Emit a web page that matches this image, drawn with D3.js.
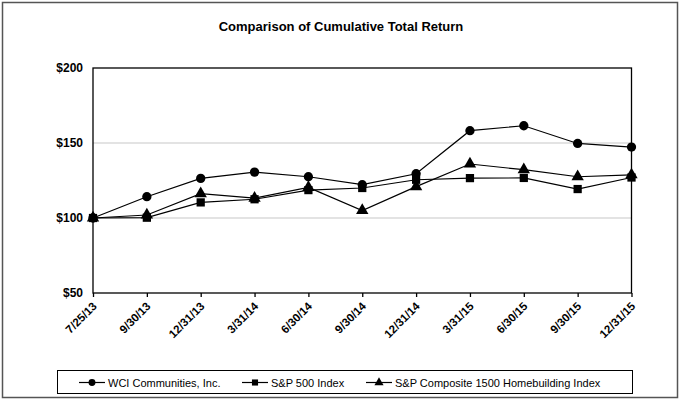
<!DOCTYPE html>
<html>
<head>
<meta charset="utf-8">
<script src="https://cdn.jsdelivr.net/npm/d3@7"></script>
<style>
  body { margin: 0; background: #fff; }
  svg { display: block; font-family: 'Liberation Sans', Arial, sans-serif; }
</style>
</head>
<body>
<div id="chart"></div>
<script>
// dates on the x axis
const dates = ['7/25/13', '9/30/13', '12/31/13', '3/31/14', '6/30/14', '9/30/14',
  '12/31/14', '3/31/15', '6/30/15', '9/30/15', '12/31/15'];

// cumulative total return
const wci = [100, 114.2, 126.4, 130.6, 127.5, 122.2, 129.5, 158.2, 161.5, 149.7, 147.3];
const sp500 = [100, 100.2, 110.4, 112.5, 118.6, 120, 125.5, 126.6, 126.7, 119.3, 127];
const homebuilding = [100, 102, 116.2, 113.2, 120.4, 105, 120.9, 136, 132.2, 127.5, 128.8];

const yTicks = [50, 100, 150, 200];

const width = 680;
const height = 405;
const margin = { left: 93, right: 48, top: 68, bottom: 112 };

const svg = d3.select('#chart')
  .append('svg')
  .attr('width', width)
  .attr('height', height);

// outer frame
svg.append('rect')
  .attr('x', 2.5)
  .attr('y', 2.5)
  .attr('width', 675)
  .attr('height', 395)
  .attr('fill', 'none')
  .attr('stroke', '#555')
  .attr('stroke-width', 1.5);

svg.append('text')
  .attr('x', 341)
  .attr('y', 31)
  .attr('text-anchor', 'middle')
  .style('font-size', '13px')
  .style('font-weight', 'bold')
  .text('Comparison of Cumulative Total Return');

const x = d3.scalePoint()
  .domain(dates)
  .range([margin.left, width - margin.right - 0.5]);

const y = d3.scaleLinear()
  .domain([50, 200])
  .range([height - margin.bottom, margin.top]);

// grid lines
svg.append('g')
  .selectAll('line')
  .data(yTicks.filter((d) => d > 50 && d < 200))
  .enter()
  .append('line')
  .attr('x1', x.range()[0])
  .attr('x2', x.range()[1])
  .attr('y1', (d) => y(d))
  .attr('y2', (d) => y(d))
  .attr('stroke', '#c8c8c8')
  .attr('stroke-width', 1.2);

// plot frame
svg.append('rect')
  .attr('x', x.range()[0])
  .attr('y', y(200))
  .attr('width', x.range()[1] - x.range()[0])
  .attr('height', y(50) - y(200))
  .attr('fill', 'none')
  .attr('stroke', '#000')
  .attr('stroke-width', 1.3);

// y axis labels
svg.append('g')
  .attr('transform', `translate(${x.range()[0]},0)`)
  .call(d3.axisLeft(y).tickValues(yTicks).tickSize(0).tickPadding(10)
    .tickFormat((d) => `$${d}`))
  .call((g) => g.select('.domain').remove())
  .selectAll('text')
  .style('font-family', "'Liberation Sans', Arial, sans-serif")
  .style('font-size', '12px')
  .style('font-weight', 'bold')
  .attr('fill', '#000');

// x axis
const xAxis = svg.append('g')
  .attr('transform', `translate(0,${y(50)})`)
  .call(d3.axisBottom(x).tickSize(4).tickSizeOuter(0));
xAxis.select('.domain').remove();
xAxis.selectAll('line').attr('stroke', '#000').attr('stroke-width', 1.3);
xAxis.selectAll('text')
  .style('font-family', "'Liberation Sans', Arial, sans-serif")
  .style('font-size', '11.5px')
  .style('font-weight', 'bold')
  .attr('fill', '#000')
  .attr('text-anchor', 'end')
  .attr('dy', null)
  .attr('y', 0)
  .attr('transform', 'translate(4,14) rotate(-45)');

const series = [
  { name: 'WCI Communities, Inc.', values: wci, shape: d3.symbolCircle, size: 68 },
  { name: 'S&P 500 Index', values: sp500, shape: d3.symbolSquare, size: 68 },
  { name: 'S&P Composite 1500 Homebuilding Index', values: homebuilding, shape: d3.symbolTriangle, size: 66 },
];

const line = d3.line()
  .x((d, i) => x(dates[i]))
  .y((d) => y(d));

series.forEach((s) => {
  svg.append('path')
    .datum(s.values)
    .attr('d', line)
    .attr('fill', 'none')
    .attr('stroke', '#000')
    .attr('stroke-width', 1.2);
});

series.forEach((s) => {
  svg.append('g')
    .selectAll('path')
    .data(s.values)
    .enter()
    .append('path')
    .attr('d', d3.symbol().type(s.shape).size(s.size))
    .attr('transform', (d, i) => `translate(${x(dates[i])},${y(d)})`)
    .attr('fill', '#000');
});

// legend
const legend = svg.append('g');
legend.append('rect')
  .attr('x', 57.5)
  .attr('y', 370.5)
  .attr('width', 575)
  .attr('height', 23)
  .attr('fill', '#fff')
  .attr('stroke', '#000')
  .attr('stroke-width', 1);

const legendX = [79, 242, 366];
series.forEach((s, i) => {
  const g = legend.append('g').attr('transform', `translate(${legendX[i]},382.5)`);
  g.append('line')
    .attr('x1', 0).attr('x2', 26)
    .attr('stroke', '#000').attr('stroke-width', 1.2);
  g.append('path')
    .attr('d', d3.symbol().type(s.shape).size(s.size * 0.55))
    .attr('transform', 'translate(13,0)')
    .attr('fill', '#000');
  g.append('text')
    .attr('x', 29)
    .attr('y', 4)
    .style('font-size', '11px')
    .text(s.name);
});
</script>
</body>
</html>
